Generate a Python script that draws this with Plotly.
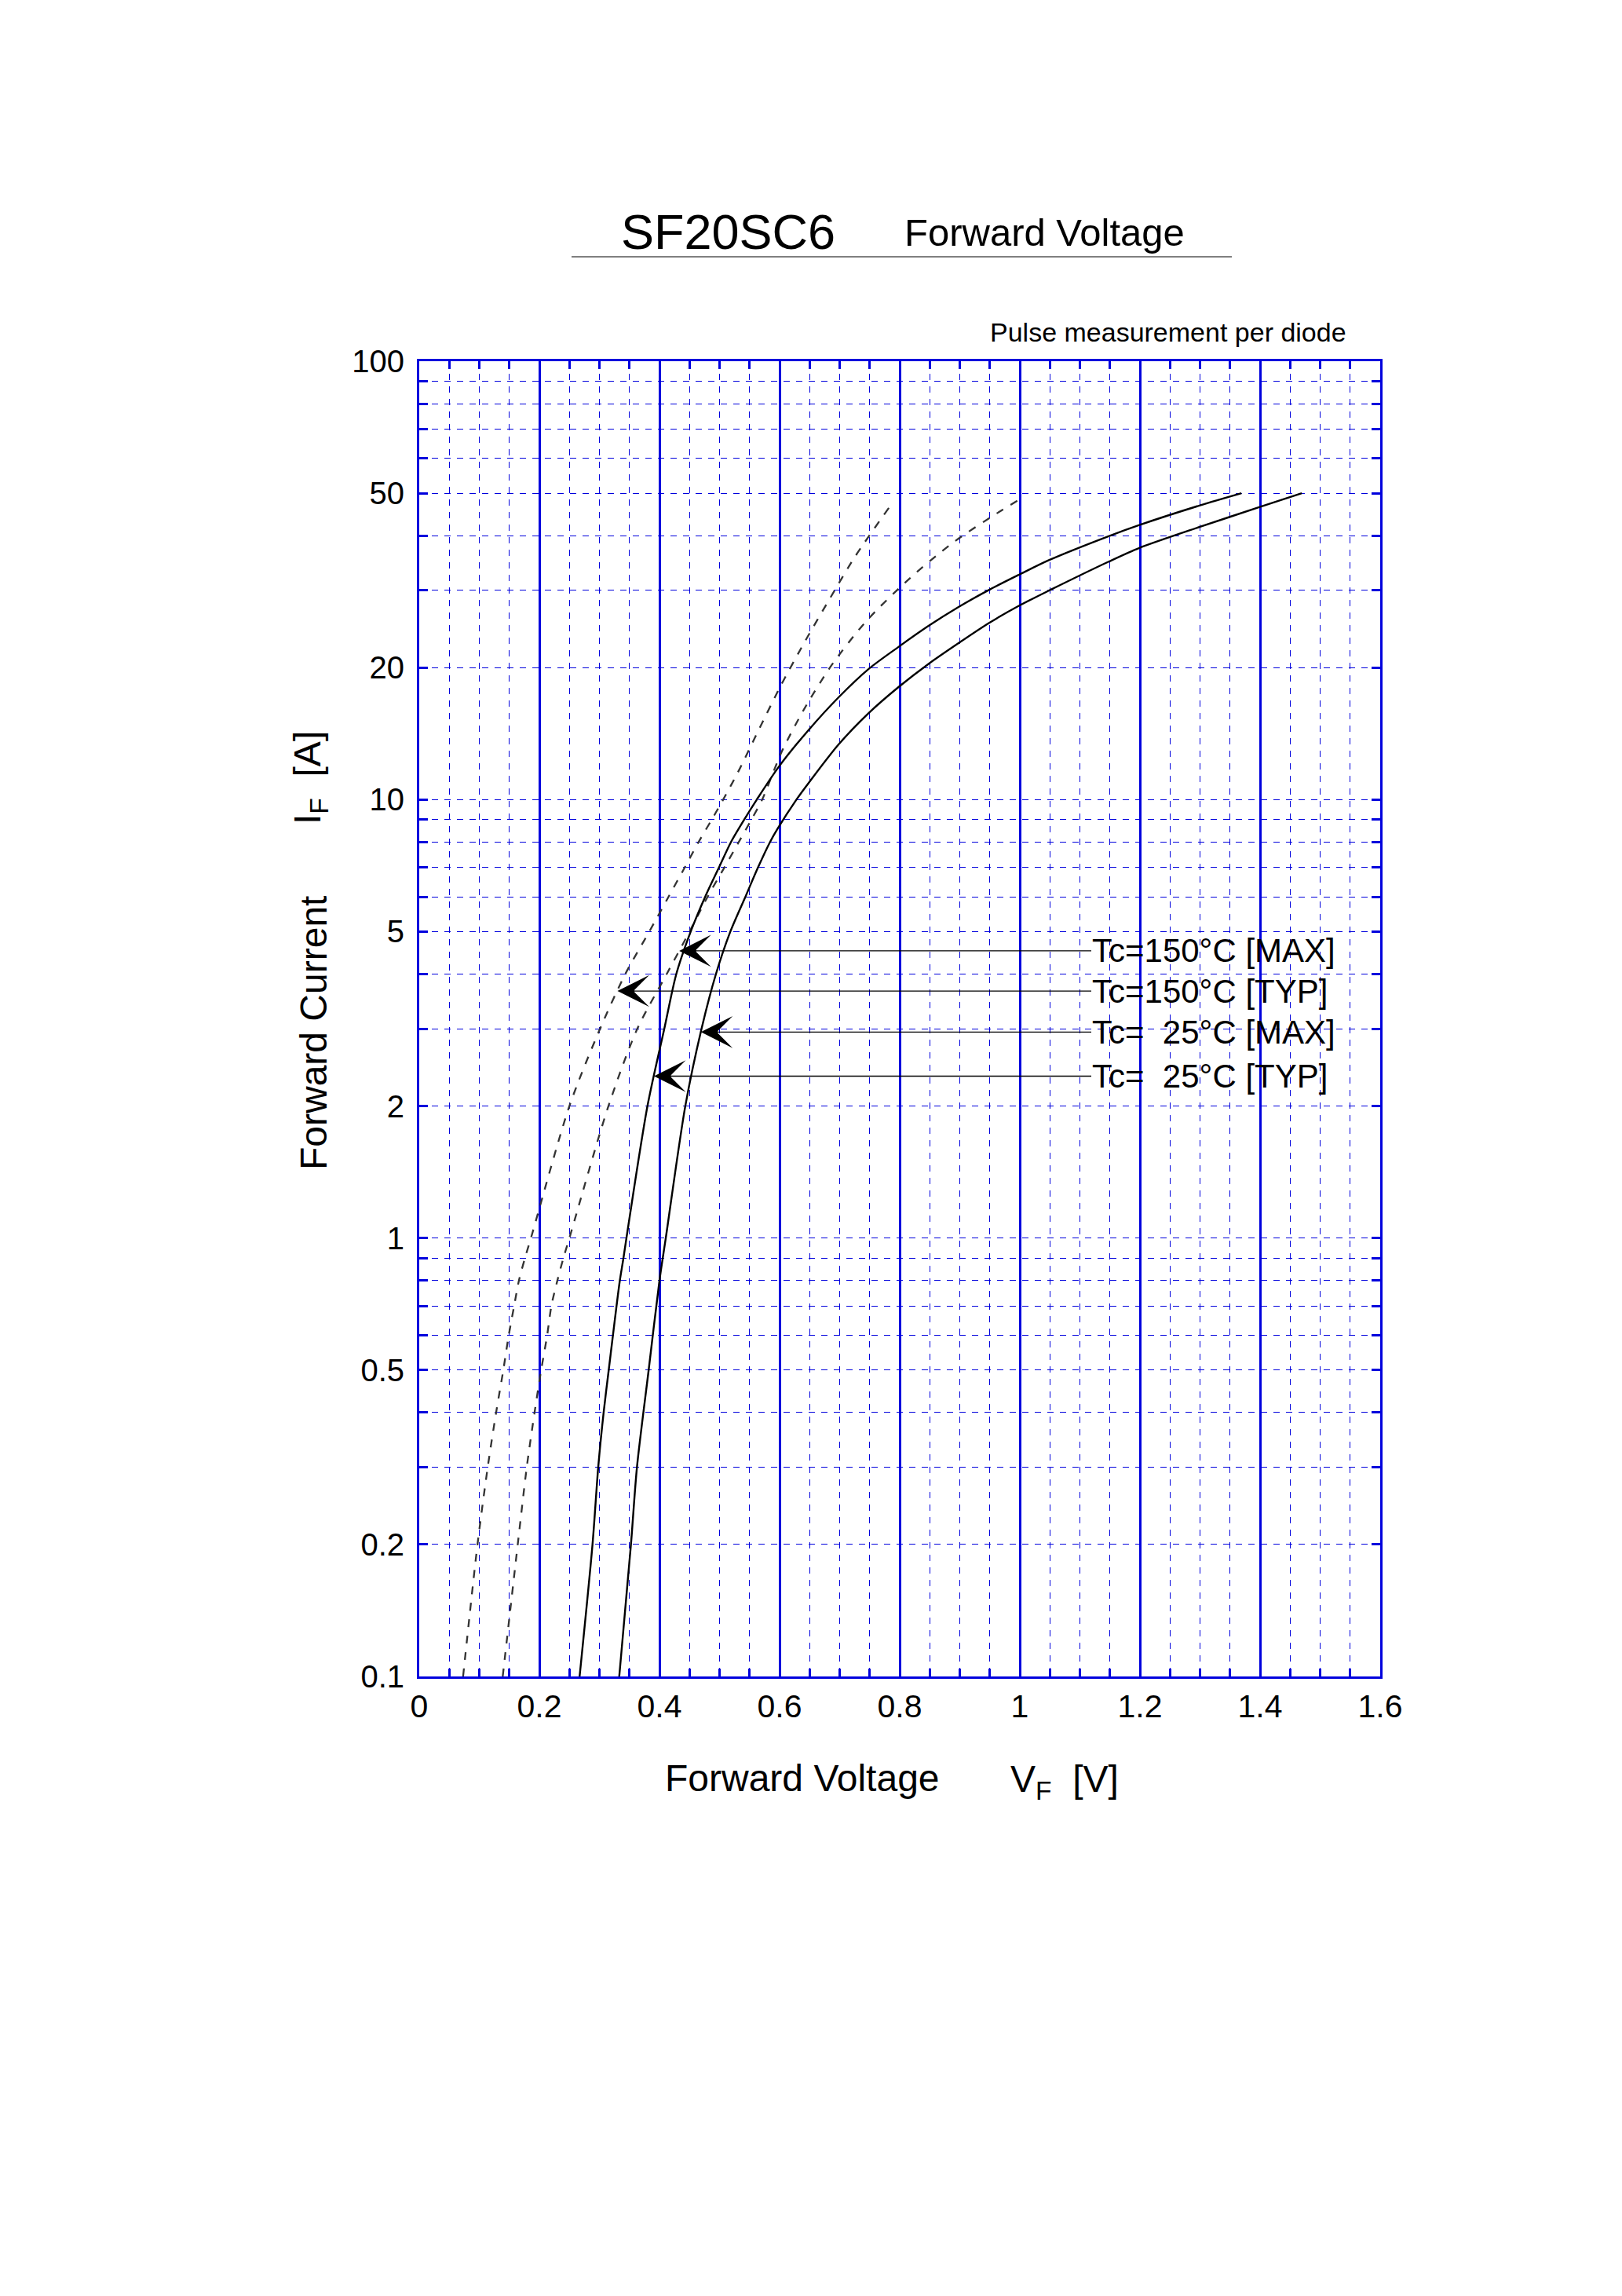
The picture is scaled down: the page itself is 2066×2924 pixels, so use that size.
import numpy as np
import plotly.graph_objects as go

# forward characteristic curves (V in volts, I in amps)
I_150_TYP = [0.1, 0.2, 0.3, 0.4, 0.5, 0.6, 0.7, 0.8, 0.9, 1, 2, 3, 4, 5, 6, 7, 8, 9, 10,
             11.5, 14.4, 18.2, 22.8, 28.8, 35.9, 46.5]
V_150_TYP = [0.073, 0.097, 0.114, 0.128, 0.140, 0.149, 0.158, 0.166, 0.176, 0.186, 0.250,
             0.301, 0.343, 0.383, 0.415, 0.442, 0.465, 0.487, 0.506, 0.530, 0.565, 0.602,
             0.641, 0.684, 0.726, 0.783]

I_150_MAX = [0.1, 0.2, 0.3, 0.4, 0.5, 0.6, 0.7, 0.8, 0.9, 1, 2, 3, 4, 5, 6, 7, 8, 9, 10,
             12.9, 16.1, 20.3, 25.5, 31.9, 38.5, 45, 48.7]
V_150_MAX = [0.139, 0.164, 0.179, 0.192, 0.203, 0.213, 0.220, 0.230, 0.240, 0.250, 0.315,
             0.363, 0.412, 0.450, 0.480, 0.508, 0.532, 0.553, 0.571, 0.604, 0.641, 0.687,
             0.744, 0.816, 0.888, 0.962, 1.003]

I_25_TYP = [0.1, 0.2, 0.3, 0.4, 0.5, 0.6, 0.7, 0.8, 0.9, 1, 2, 3, 4, 5, 6, 7, 8, 9, 10,
            11.9, 14.4, 17.1, 19.85, 22.3, 24.9, 27.5, 30.1, 32.6, 35.2, 39.9, 42.3, 46.9, 50]
V_25_TYP = [0.267, 0.2885, 0.298, 0.307, 0.3155, 0.3225, 0.3285, 0.334, 0.340, 0.345, 0.380,
            0.408, 0.428, 0.452, 0.476, 0.499, 0.519, 0.541, 0.562, 0.599, 0.648, 0.698,
            0.748, 0.798, 0.848, 0.898, 0.949, 0.999, 1.049, 1.148, 1.199, 1.300, 1.369]

I_25_MAX = [0.1, 0.2, 0.3, 0.5, 0.8, 1, 2, 3, 4, 5, 6, 7, 8, 8.6, 10, 10.9, 13.35, 15.74,
            18.06, 20.4, 22.75, 25.3, 27.7, 30, 34.9, 37.5, 41.9, 46.5, 50]
V_25_MAX = [0.333, 0.3525, 0.3625, 0.382, 0.400, 0.4105, 0.443, 0.470, 0.494, 0.518, 0.543,
            0.564, 0.584, 0.597, 0.628, 0.648, 0.698, 0.748, 0.798, 0.848, 0.898, 0.949,
            0.999, 1.049, 1.148, 1.199, 1.300, 1.3995, 1.4695]

# labels with the current where each pointer hits its curve
CURVE_LABELS = ["Tc=150°C [MAX]", "Tc=150°C [TYP]", "Tc=\u00a0\u00a025°C [MAX]", "Tc=\u00a0\u00a025°C [TYP]"]
ARROW_IF = [4.52, 3.66, 2.95, 2.34]

Y_TICKS = [0.1, 0.2, 0.5, 1, 2, 5, 10, 20, 50, 100]
Y_TICKTEXT = ["0.1", "0.2", "0.5", "1", "2", "5", "10", "20", "50", "100"]
Y_MINOR = [0.3, 0.4, 0.6, 0.7, 0.8, 0.9, 3, 4, 6, 7, 8, 9, 30, 40, 60, 70, 80, 90]

BLUE = "#0000dd"
FONT = "Liberation Sans"

# plot area in pixels (figure is 2066 x 2924)
W, H = 2066, 2924
L, R, T, B = 526, 1750, 452, 2127


def px(x):
    return (x - L) / (R - L)


def py(y):
    return (B - y) / (B - T)


curves = [
    (V_150_MAX, I_150_MAX, True),
    (V_150_TYP, I_150_TYP, True),
    (V_25_MAX, I_25_MAX, False),
    (V_25_TYP, I_25_TYP, False),
]

fig = go.Figure()
for v, i, dashed in curves:
    fig.add_trace(go.Scatter(
        x=v, y=i, mode="lines", showlegend=False, hoverinfo="skip",
        line=dict(color="#333333" if dashed else "black", width=2.3 if dashed else 2.4,
                  dash="10px,11px" if dashed else "solid", shape="spline", smoothing=0.8),
    ))

annotations = []
label_v = (1382 - L) / 765.0
for (v, i, dashed), text, amp in zip(curves, CURVE_LABELS, ARROW_IF):
    tip_v = float(np.interp(np.log10(amp), np.log10(i), v))
    annotations.append(dict(
        x=tip_v, y=np.log10(amp), xref="x", yref="y",
        ax=label_v, ay=np.log10(amp), axref="x", ayref="y",
        text=text, xanchor="left", yanchor="middle", borderpad=0,
        font=dict(family=FONT, size=42, color="black"),
        showarrow=True, arrowhead=3, arrowsize=5.2, arrowwidth=1.3,
        arrowcolor="black",
    ))

# titles and axis captions
annotations += [
    dict(x=px(919), y=py(287), xref="paper", yref="paper", text="SF20SC6", showarrow=False,
         xanchor="center", yanchor="middle", font=dict(family=FONT, size=63, color="black")),
    dict(x=px(1322), y=py(288), xref="paper", yref="paper", text="Forward Voltage", showarrow=False,
         xanchor="center", yanchor="middle", font=dict(family=FONT, size=49, color="black")),
    dict(x=px(1709), y=py(415), xref="paper", yref="paper", text="Pulse measurement per diode",
         showarrow=False, xanchor="right", yanchor="middle",
         font=dict(family=FONT, size=34, color="black")),
    dict(x=px(1014), y=py(2256), xref="paper", yref="paper", text="Forward Voltage", showarrow=False,
         xanchor="center", yanchor="middle", font=dict(family=FONT, size=48, color="black")),
    dict(x=px(1277), y=py(2261), xref="paper", yref="paper", text="V<sub>F</sub>\u00a0\u00a0[V]",
         showarrow=False, xanchor="left", yanchor="middle",
         font=dict(family=FONT, size=48, color="black")),
    dict(x=px(391), y=py(1308), xref="paper", yref="paper", text="Forward Current", showarrow=False,
         textangle=-90, xanchor="center", yanchor="middle",
         font=dict(family=FONT, size=48, color="black")),
    dict(x=px(387), y=py(983), xref="paper", yref="paper", text="I<sub>F</sub>\u00a0\u00a0[A]",
         showarrow=False, textangle=-90, xanchor="center", yanchor="middle",
         font=dict(family=FONT, size=48, color="black")),
]

fig.update_layout(
    width=W, height=H,
    margin=dict(l=L, r=W - R, t=T, b=H - B, pad=0),
    paper_bgcolor="white", plot_bgcolor="white",
    font=dict(family=FONT, color="black"),
    annotations=annotations,
    shapes=[dict(type="line", xref="paper", yref="paper", x0=px(720), x1=px(1561),
                 y0=py(319), y1=py(319), line=dict(color="#555555", width=1.5))],
)

fig.update_xaxes(
    range=[0, 1.6], tick0=0, dtick=0.2, showgrid=True, gridcolor=BLUE, gridwidth=2.5,
    zeroline=False, showline=True, linecolor=BLUE, linewidth=3, mirror="allticks",
    ticks="", tickfont=dict(family=FONT, size=41, color="black"),
    minor=dict(tick0=0, dtick=0.05, showgrid=True, gridcolor=BLUE, gridwidth=1.3,
               griddash="8px,8px", ticks="inside", ticklen=10, tickwidth=3, tickcolor=BLUE),
)
fig.update_yaxes(
    type="log", range=[-1, 2], tickmode="array", tickvals=Y_TICKS, ticktext=Y_TICKTEXT,
    showgrid=True, gridcolor=BLUE, gridwidth=1.3, griddash="8px,8px",
    zeroline=False, showline=True, linecolor=BLUE, linewidth=3, mirror="allticks",
    ticks="inside", ticklen=11, tickwidth=3, tickcolor=BLUE, ticklabelstandoff=8,
    tickfont=dict(family=FONT, size=40, color="black"),
    minor=dict(tickmode="array", tickvals=Y_MINOR, showgrid=True, gridcolor=BLUE, gridwidth=1.3,
               griddash="8px,8px", ticks="inside", ticklen=11, tickwidth=3, tickcolor=BLUE),
)

fig.write_html("out.html")
